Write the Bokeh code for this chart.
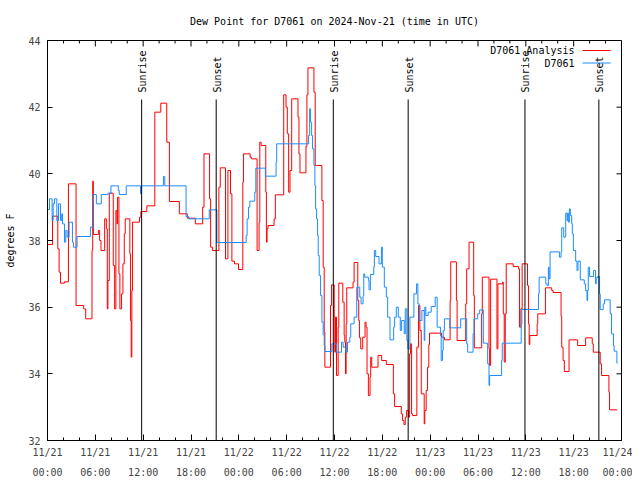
from math import pi
from bokeh.plotting import figure
from bokeh.models import Range1d, FixedTicker, Label, ColumnDataSource
from bokeh.core.properties import value
from bokeh.embed import file_html
from bokeh.resources import INLINE

# ---------------- data (hours since 2024-11-21 00:00 UTC, degrees F) ----------------
red_t = [0, 0.63, 1.29, 1.46, 1.63, 2.13, 2.63, 3.58, 4.54, 4.79, 5.58, 5.67, 5.75, 6.38, 6.54,
         6.71, 7.17, 7.38, 7.5, 7.58, 7.75, 8.25, 8.42, 8.58, 8.71, 8.79, 8.96, 9.08, 9.29, 9.46,
         9.63, 9.75, 10.33, 10.42, 10.5, 10.58, 10.67, 11.54, 11.71, 12.46, 13.46, 14.21, 14.96,
         15.29, 16.54, 17.54, 18.54, 19.46, 19.63, 20.33, 20.46, 20.71, 21.5, 21.67, 22.33, 22.63,
         22.96, 23.13, 23.46, 23.96, 24.5, 24.58, 25.42, 25.58, 26.29, 26.54, 26.63, 26.79, 27.38,
         27.46, 27.54, 27.67, 28.42, 28.58, 29.63, 29.92, 30.08, 30.25, 30.42, 30.63, 31.42, 31.54,
         31.67, 32.42, 32.54, 32.67, 33.42, 33.58, 34.42, 34.58, 34.71, 34.79, 35.5, 35.63, 35.96,
         36.04, 36.13, 36.25, 36.46, 36.54, 37.04, 37.21, 37.29, 37.38, 37.46, 37.54, 38.33, 38.46,
         38.92, 39.04, 39.13, 39.29, 39.54, 39.83, 39.96, 40.08, 40.25, 40.46, 40.54, 40.67, 41.46,
         41.92, 42.5, 43.38, 43.54, 44.38, 44.54, 44.71, 44.88, 45.04, 45.29, 45.42, 45.54, 45.67,
         45.79, 46.33, 46.54, 46.71, 46.88, 47.25, 47.33, 47.5, 47.67, 47.83, 47.92, 49.42, 49.79,
         50.5, 50.58, 51.29, 51.38, 52.46, 52.58, 52.88, 53.46, 53.54, 54.46, 54.54, 55.38, 55.46,
         55.58, 56.38, 56.5, 57.08, 57.17, 57.29, 57.42, 57.54, 58.42, 59.08, 59.21, 59.38, 59.54,
         60.21, 60.33, 60.42, 60.5, 61.42, 61.5, 62.46, 63.25, 63.42, 64.42, 64.5, 64.67, 64.83,
         65.42, 66.5, 67.5, 68.33, 68.46, 69.33, 69.5, 70.42, 70.5, 71.46]
red_v = [37.88, 38.73, 37.75, 37.05, 36.72, 36.76, 39.7, 36.05, 35.95, 35.65, 37.7, 39.78, 38.18, 38.3, 38.0,
         37.7, 38.65, 38.35, 35.95, 36.8, 39.42, 37.25, 35.95, 38.9, 38.5, 39.3, 37.0, 35.95, 36.4, 37.3,
         38.2, 38.65, 37.6, 35.6, 34.5, 36.5, 38.55, 38.7, 38.87, 39.04, 41.85, 42.12, 40.95,
         39.17, 38.8, 38.67, 38.5, 39.0, 40.6, 39.25, 37.8, 37.7, 39.6, 40.18, 37.45, 40.1,
         39.4, 37.38, 37.3, 37.13, 39.75, 40.6, 40.5, 40.45, 37.7, 38.55, 40.95, 40.85, 39.45,
         37.95, 38.35, 38.45, 38.65, 39.37, 42.37, 42.0, 41.2, 39.45, 40.1, 42.25, 41.7, 40.6,
         40.03, 40.83, 42.37, 43.18, 42.45, 40.25, 39.2, 37.2, 35.25, 34.2, 36.05, 36.67, 35.7,
         34.65, 35.7, 33.95, 35.4, 36.72, 36.15, 35.15, 34.95, 34.0, 35.5, 36.58, 36.75, 37.34,
         36.2, 35.6, 35.08, 34.75, 35.1, 35.55, 35.4, 34.0, 33.35, 33.9, 34.5, 34.2, 34.55,
         34.4, 34.28, 33.4, 33.02, 32.8, 32.6, 32.48, 32.7, 32.9, 32.7, 34.6, 34.9, 32.8,
         32.75, 34.8, 36.05, 35.3, 33.4, 32.5, 32.9, 33.5, 34.2, 34.88, 35.22, 35.1, 35.02,
         36.2, 37.36, 36.2, 35.0, 36.1, 37.15, 37.95, 36.35, 34.78, 35.8, 36.9, 34.75, 34.25,
         36.84, 34.75, 36.7, 36.75, 35.8, 34.35, 35.8, 37.3, 37.22, 37.15, 35.4, 35.95, 37.3,
         36.65, 35.5, 34.88, 35.15, 35.5, 35.8, 36.58, 36.5, 36.44, 35.72, 34.8, 34.4, 34.07,
         35.02, 34.85, 35.08, 34.9, 34.65, 34.3, 33.95, 33.45, 32.92, 32.92]

blue_t = [0, 0.25, 0.58, 0.71, 0.88, 1.17, 1.38, 1.63, 1.79, 1.88, 2.13, 2.29, 2.46, 2.71, 3.13,
          3.25, 3.71, 5.38, 5.71, 6.13, 6.75, 7.58, 7.96, 8.88, 9.0, 9.88, 11.67, 11.79, 14.54,
          14.71, 17.38, 17.71, 20.29, 21.25, 24.92, 25.04, 25.21, 25.38, 26.0, 26.13, 27.33, 28.67,
          28.75, 32.75, 32.88, 33.0, 33.13, 33.25, 33.42, 33.54, 33.63, 33.75, 33.88, 33.96, 34.08,
          34.25, 34.42, 34.58, 34.71, 34.79, 35.67, 36.25, 36.88, 37.08, 37.42, 37.63, 37.92, 38.04,
          38.46, 38.79, 39.17, 39.33, 39.58, 39.67, 39.79, 40.25, 40.33, 40.5, 40.92, 41.0, 41.17,
          41.58, 41.88, 42.0, 42.25, 42.5, 42.67, 42.96, 43.42, 43.54, 43.75, 44.0, 44.25, 44.42,
          44.75, 44.88, 45.08, 45.21, 45.46, 45.96, 46.29, 46.46, 46.63, 46.96, 47.25, 47.33, 47.46,
          47.75, 48.13, 48.63, 48.88, 49.29, 49.38, 49.54, 49.63, 49.79, 50.46, 51.83, 52.58, 52.71,
          53.38, 53.5, 53.96, 54.21, 54.67, 55.21, 55.38, 55.46, 56.96, 57.04, 59.42, 59.5, 61.58,
          61.67, 62.5, 62.67, 62.83, 62.92, 63.04, 64.21, 64.42, 64.5, 64.75, 65.0, 65.17, 65.25,
          65.33, 65.46, 65.58, 65.75, 65.83, 65.96, 66.25, 66.42, 66.54, 66.83, 67.33, 67.5, 67.67,
          67.75, 67.83, 68.0, 68.5, 68.75, 68.83, 69.0, 69.25, 69.33, 69.71, 69.88, 70.58, 70.75,
          71.0, 71.08, 71.42, 71.5]
blue_v = [38.93, 39.25, 38.6, 39.1, 39.25, 38.6, 39.1, 38.6, 38.8, 38.5, 37.95, 38.3, 38.1, 38.55, 37.95,
          37.8, 38.12, 38.4, 39.38, 39.1, 39.38, 39.42, 39.64, 39.5, 39.38, 39.64, 39.4, 39.64, 39.92,
          39.64, 38.72, 38.65, 38.92, 37.94, 38.15, 38.65, 39.0, 39.18, 39.45, 40.17, 39.93, 40.35,
          40.9, 41.15, 41.95, 41.55, 41.15, 40.75, 40.25, 39.65, 38.95, 38.65, 38.15, 37.55, 36.95,
          36.35, 35.55, 35.17, 34.85, 34.67, 34.9, 34.65, 34.95, 34.8, 34.65, 34.95, 35.1, 35.5,
          35.7, 36.6, 36.3, 36.1, 36.35, 37.0, 36.9, 36.8, 36.52, 36.98, 37.2, 37.7, 37.52,
          37.3, 37.8, 37.2, 36.6, 36.3, 35.7, 35.02, 35.4, 35.7, 36.0, 35.7, 35.3, 35.6,
          35.2, 35.95, 35.0, 34.75, 35.7, 36.4, 36.7, 36.1, 35.6, 35.9, 35.0, 36.0, 35.75,
          35.85, 36.02, 36.3, 35.4, 35.15, 34.4, 34.7, 35.3, 35.65, 35.38, 35.65, 34.9, 34.65,
          35.2, 35.65, 35.8, 35.92, 34.92, 34.3, 33.65, 33.95, 34.4, 34.92, 35.5, 35.93, 36.4,
          36.9, 36.7, 36.65, 37.2, 36.85, 37.66, 37.5, 37.66, 38.38, 38.1, 38.82, 38.6, 38.82,
          38.55, 38.95, 38.75, 38.5, 38.2, 37.7, 37.38, 37.1, 37.38, 36.82, 36.7, 36.5, 36.2,
          36.5, 37.2, 36.92, 37.1, 36.7, 36.88, 36.92, 36.4, 35.93, 36.1, 36.22, 35.8, 35.2,
          34.85, 34.68, 34.32, 34.32]

sun_hours = [11.81, 21.16, 35.85, 45.24, 59.89, 69.16]
sun_labels = ["Sunrise", "Sunset", "Sunrise", "Sunset", "Sunrise", "Sunset"]

x_tick_hours = [0, 6, 12, 18, 24, 30, 36, 42, 48, 54, 60, 66, 72]
x_tick_dates = ["11/21", "11/21", "11/21", "11/21", "11/22", "11/22", "11/22", "11/22",
                "11/23", "11/23", "11/23", "11/23", "11/24"]
x_tick_times = ["00:00", "06:00", "12:00", "18:00", "00:00", "06:00", "12:00", "18:00",
                "00:00", "06:00", "12:00", "18:00", "00:00"]
x_minor_hours = [h for h in range(0, 73, 2) if h % 6 != 0]
y_ticks = [32, 34, 36, 38, 40, 42, 44]

title_text = "Dew Point for D7061 on 2024-Nov-21 (time in UTC)"
series_names = ["D7061 Analysis", "D7061"]
RED = "#ff0000"
BLUE = "#1a8cff"
FONT = "DejaVu Sans Mono"
FS = "10px"

X0, X1, Y0, Y1 = 0, 72, 32, 44
FW, FH = 574, 400

p = figure(frame_width=FW, frame_height=FH, output_backend="svg", toolbar_location=None,
           x_range=Range1d(X0, X1), y_range=Range1d(Y0, Y1),
           min_border_left=47, min_border_right=11, min_border_top=40, min_border_bottom=40,
           title=title_text)
p.background_fill_color = "white"
p.border_fill_color = "white"
p.outline_line_color = "black"
p.outline_line_alpha = 1.0
p.outline_line_width = 1
p.xgrid.visible = False
p.ygrid.visible = False

p.title.text_font = FONT
p.title.text_font_size = FS
p.title.text_font_style = "normal"
p.title.text_color = "black"
p.title.align = "center"
p.title.standoff = 27

px_y = (Y1 - Y0) / FH
px_x = (X1 - X0) / FW

# bottom axis: two-line labels (date / time)
xa = p.xaxis[0]
xa.ticker = FixedTicker(ticks=x_tick_hours, minor_ticks=x_minor_hours)
xa.major_label_overrides = {h: d + "\n" + t for h, d, t in zip(x_tick_hours, x_tick_dates, x_tick_times)}
xa.major_tick_in = 6
xa.major_tick_out = 0
xa.minor_tick_in = 3
xa.minor_tick_out = 0
xa.major_label_standoff = 6
xa.major_label_text_font = FONT
xa.major_label_text_font_size = FS
xa.major_label_text_line_height = 1.9
xa.axis_line_color = "black"

ya = p.yaxis[0]
ya.ticker = FixedTicker(ticks=y_ticks, minor_ticks=[])
ya.major_tick_in = 5
ya.major_tick_out = 0
ya.minor_tick_line_color = None
ya.major_label_standoff = 7
ya.major_label_text_font = FONT
ya.major_label_text_font_size = FS
ya.axis_label = "degrees F"
ya.axis_label_text_font = FONT
ya.axis_label_text_font_size = FS
ya.axis_label_text_font_style = "normal"
ya.axis_label_text_color = "black"
ya.axis_label_standoff = 9

# mirrored ticks on top and right edges (inward), derived from the tick lists
p.segment(x0=x_tick_hours, y0=[Y1] * len(x_tick_hours), x1=x_tick_hours,
          y1=[Y1 - 6 * px_y] * len(x_tick_hours), line_color="black", line_width=1)
p.segment(x0=x_minor_hours, y0=[Y1] * len(x_minor_hours), x1=x_minor_hours,
          y1=[Y1 - 3 * px_y] * len(x_minor_hours), line_color="black", line_width=1)
p.segment(x0=[X1] * len(y_ticks), y0=y_ticks, x1=[X1 - 5 * px_x] * len(y_ticks), y1=y_ticks,
          line_color="black", line_width=1)

# data
p.step(red_t, red_v, mode="after", line_color=RED, line_width=1)
p.step(blue_t, blue_v, mode="after", line_color=BLUE, line_width=1)

# sunrise / sunset markers
line_top = Y1 - 59 * px_y
text_start = Y1 - 52 * px_y
sun_src = ColumnDataSource(dict(x=sun_hours, y0=[Y0] * len(sun_hours), y1=[line_top] * len(sun_hours),
                                ty=[text_start] * len(sun_hours), label=sun_labels))
p.segment(x0="x", y0="y0", x1="x", y1="y1", source=sun_src, line_color="black", line_width=1)
p.text(x="x", y="ty", text="label", source=sun_src, angle=pi / 2, text_align="left",
       text_baseline="middle", text_font=value(FONT), text_font_size=value(FS), text_color="black",
       x_offset=1)

# key (top right, text right-aligned, sample line to its right)
key_text_x = X0 + (574 - 47) * px_x
key_line = [X0 + (582 - 47) * px_x, X0 + (610 - 47) * px_x]
key_y = [Y1 - 10 * px_y, Y1 - 22.5 * px_y]
for name, col, ky in zip(series_names, [RED, BLUE], key_y):
    p.add_layout(Label(x=key_text_x, y=ky, text=name, text_align="right", text_baseline="middle",
                       text_font=FONT, text_font_size=FS, text_color="black"))
    p.line(key_line, [ky, ky], line_color=col, line_width=1)

open("out.html", "w").write(file_html(p, INLINE))
